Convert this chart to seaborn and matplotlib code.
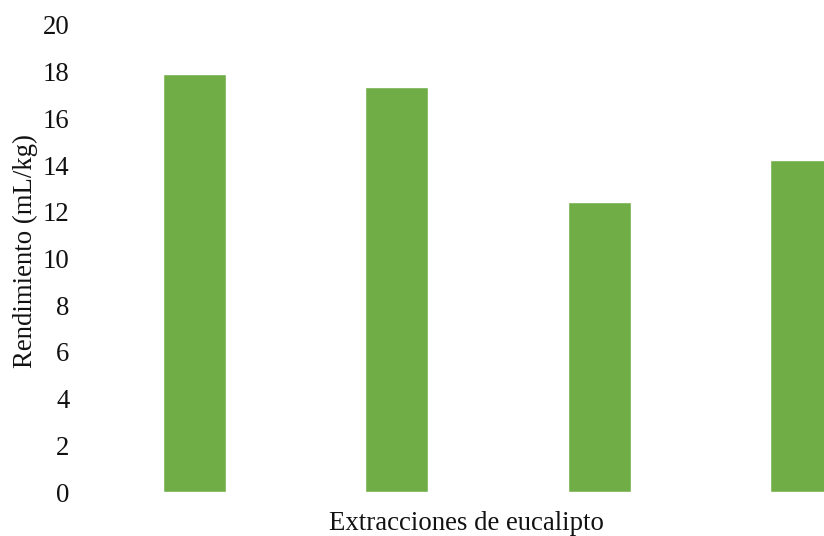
import matplotlib
matplotlib.use("Agg")
import matplotlib.pyplot as plt
import seaborn as sns
import pandas as pd

# Yield of eucalyptus oil per extraction run
extracciones = ["E1", "E2", "E3", "E4"]
rendimiento = [17.9, 17.35, 12.4, 14.2]

sns.set_theme(style="white")
plt.rcParams["font.family"] = ["Liberation Serif", "DejaVu Serif"]

df = pd.DataFrame({"extraccion": extracciones, "rendimiento": rendimiento})

fig = plt.figure(figsize=(8.24, 5.36), dpi=100)
ax = fig.add_axes([93 / 824, 44 / 536, 810 / 824, 467 / 536])

sns.barplot(data=df, x="extraccion", y="rendimiento", color="#70AD47",
            saturation=1, width=0.31, ax=ax)

ax.set_xlim(-0.5, 3.5)
ax.set_ylim(0, 20)
ax.set_yticks(range(0, 21, 2))
ax.set_xticks([])
ax.tick_params(axis="y", length=0, pad=17, labelsize=19.3, labelcolor="#111111")
for side in ax.spines.values():
    side.set_visible(False)

ax.set_ylabel("Rendimiento (mL/kg)", fontsize=19.3, color="#111111")
ax.yaxis.set_label_coords(-55 / 810, 0.515)
ax.set_xlabel("Extracciones de eucalipto", fontsize=19.3, color="#111111")
ax.xaxis.set_label_coords((466 - 93) / 810, -19 / 467)

fig.savefig("out.png", dpi=100)
